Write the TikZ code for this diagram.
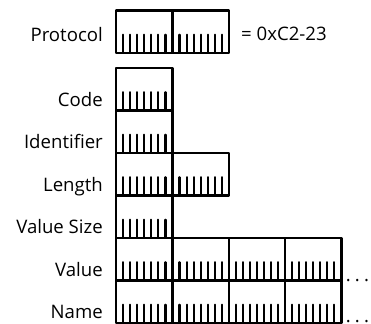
\documentclass[tikz,border=0pt]{standalone}
\usepackage{fontspec}
\setmainfont{Open Sans}
\begin{document}
\begin{tikzpicture}[x=1pt,y=1pt,
  line join=round, line cap=round,
  every node/.style={font=\fontsize{18.6}{21}\selectfont, inner sep=0pt},
  field/.style={draw, line width=2.4pt, rectangle, anchor=north west,
    minimum height=42.5pt, minimum width=#1*56.3pt,
    path picture={
      \pgfmathtruncatemacro{\nbits}{8*#1-1}
      \foreach \k in {1,...,\nbits}{
        \pgfmathtruncatemacro{\isbyte}{mod(\k,8)==0}
        \ifnum\isbyte=1
          \draw[line width=2.4pt] ([xshift=\k*7.0375pt]path picture bounding box.south west)
            -- ++(0,42.5pt);
        \else
          \draw[line width=2.1pt] ([xshift=\k*7.0375pt]path picture bounding box.south west)
            -- ++(0,18.5pt);
        \fi
      }
    }},
  lbl/.style={anchor=base east},
  dots/.style={anchor=base west}]
\useasboundingbox (0,0) rectangle (371,323);

% field rows, top to bottom
\node[field=2] (protocol) at (115,313.5) {};
\node[field=1] (code)     at (115,256) {};
\node[field=1] (ident)    at (115,213.5) {};
\node[field=2] (length)   at (115,171) {};
\node[field=1] (vsize)    at (115,128.5) {};
\node[field=4] (value)    at (115,86) {};
\node[field=4] (name)     at (115,43.5) {};

% row labels
\node[lbl] (lprotocol) at ([xshift=-12pt,yshift=13pt]protocol.south west) {Protocol};
\node[lbl] (lcode)     at ([xshift=-12pt,yshift=5.5pt]code.south west) {Code};
\node[lbl] (lident)    at ([xshift=-12pt,yshift=5.5pt]ident.south west) {Identifier};
\node[lbl] (llength)   at ([xshift=-12pt,yshift=5.5pt]length.south west) {Length};
\node[lbl] (lvsize)    at ([xshift=-12pt,yshift=5.5pt]vsize.south west) {Value Size};
\node[lbl] (lvalue)    at ([xshift=-12pt,yshift=5.5pt]value.south west) {Value};
\node[lbl] (lname)     at ([xshift=-12pt,yshift=5.5pt]name.south west) {Name};

% protocol value
\node[anchor=base west] (pval) at ([xshift=11pt,yshift=14pt]protocol.south east) {= 0xC2-23};

% continuation marks
\node[dots] (vdots) at ([xshift=3pt,yshift=0.5pt]value.south east) {.\kern4.2pt.\kern4.2pt.};
\node[dots] (ndots) at ([xshift=3pt,yshift=2pt]name.south east) {.\kern4.2pt.\kern4.2pt.};
\end{tikzpicture}
\end{document}
